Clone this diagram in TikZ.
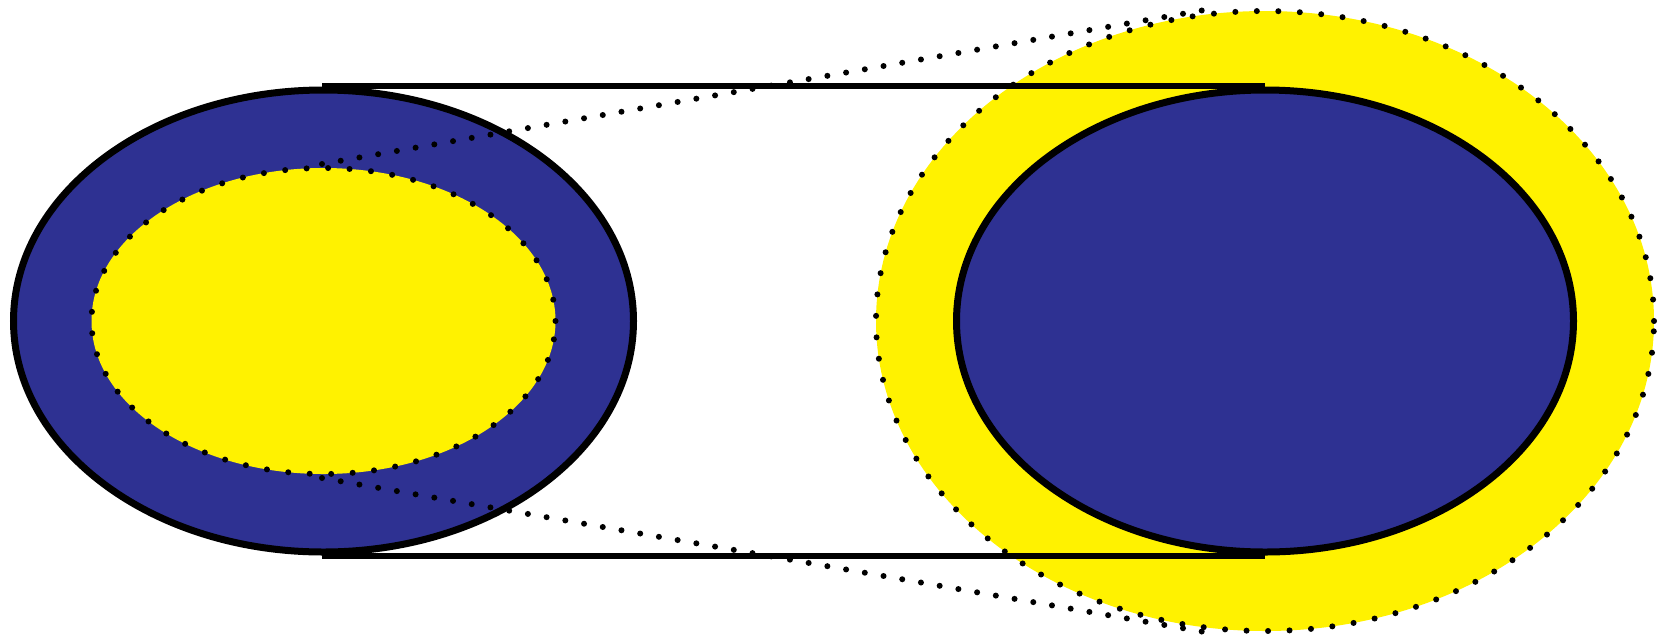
\documentclass[tikz,border=0pt]{standalone}
\definecolor{dblue}{HTML}{2E3192}
\definecolor{dyellow}{HTML}{FFF200}
\tikzset{
  outline/.style={draw=black,line width=7pt},
  dotline/.style={draw=black,line width=6pt,line cap=round,dash pattern=on 0pt off 19pt},
  dotring/.style={draw=black,line width=6pt,line cap=round,dash pattern=on 0pt off 21.5pt},
  bar/.style={draw=black,line width=6pt}
}
\begin{document}
\begin{tikzpicture}[x=1pt,y=-1pt]
\useasboundingbox (0,0) rectangle (1659,638);
% centres
\coordinate (lc) at (323.5,321);
\coordinate (rc) at (1265,321);
% big outer yellow dotted ellipse
\fill[dyellow] (rc) ellipse[x radius=389pt,y radius=310pt];
\path[dotring] (rc) ellipse[x radius=389pt,y radius=310pt];
% left blue ellipse
\fill[dblue] (lc) ellipse[x radius=310pt,y radius=231pt];
\path[outline] (lc) ellipse[x radius=310pt,y radius=231pt];
% inner yellow dotted ellipse
\fill[dyellow] (lc) ellipse[x radius=232pt,y radius=153pt];
\path[dotring] (lc) ellipse[x radius=232pt,y radius=153pt];
% right blue ellipse
\fill[dblue] (rc) ellipse[x radius=308.5pt,y radius=231pt];
\path[outline] (rc) ellipse[x radius=308.5pt,y radius=231pt];
% horizontal bars
\coordinate (tl) at (322,86);
\coordinate (tr) at (1265,86);
\coordinate (bl) at (322,556);
\coordinate (br) at (1265,556);
\draw[bar] (tl) -- (tr);
\draw[bar] (bl) -- (br);
% dotted projection lines
\coordinate (il) at (322,164);
\coordinate (ol) at (1216,8);
\coordinate (ib) at (322,478);
\coordinate (ob) at (1216,634);
\path[dotline] (il) -- (ol);
\path[dotline] (ib) -- (ob);
\end{tikzpicture}
\end{document}
